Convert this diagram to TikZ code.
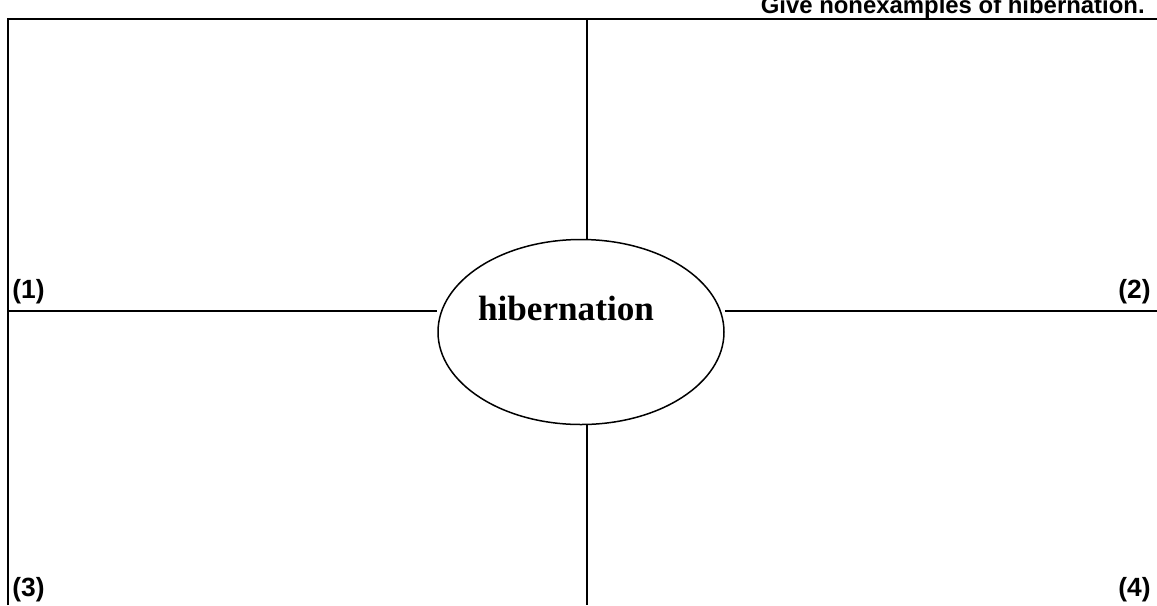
\documentclass[tikz,border=0pt]{standalone}
\usepackage{fontspec}
\setmainfont{Liberation Serif}
\newfontfamily\arialfont{Liberation Sans}
\usetikzlibrary{shapes.geometric, positioning}

\begin{document}
\begin{tikzpicture}[x=0.2mm, y=-0.2mm,
  rule/.style={draw=black, line width=0.3mm},
  numlabel/.style={anchor=base west, inner sep=0pt, font=\arialfont\bfseries\fontsize{15}{17}\selectfont},
  centerbox/.style={ellipse, draw=black, line width=0.3mm, minimum width=57.2mm, minimum height=37mm,
    inner sep=0pt, text height=5mm, text depth=9.8mm, font=\bfseries\fontsize{20}{24}\selectfont}]
\useasboundingbox (0,0) rectangle (1157,605);
\node[centerbox] (E) at (581,332) {\makebox[0pt]{hibernation\hspace*{6mm}}};
\node[anchor=base east, inner sep=0pt, font=\arialfont\bfseries\fontsize{13.6}{16}\selectfont] (T) at (1145,13) {Give nonexamples of hibernation.};
\node[numlabel] (L1) at (12,298) {(1)};
\node[numlabel, anchor=base east] (L2) at (1151,298) {(2)};
\node[numlabel] (L3) at (12,596) {(3)};
\node[numlabel, anchor=base east] (L4) at (1151,596) {(4)};
\coordinate (C0) at (8,605);
\coordinate (C1) at (8,19);
\coordinate (C2) at (1157,19);
\coordinate (V0) at (587,19);
\coordinate (V1) at (587,605);
\coordinate (H0) at (8,311);
\coordinate (H1) at (1157,311);
% frame
\draw[rule] (C0) -- (C1) -- (C2);
% cross
\draw[rule] (V0) -- (E.north -| V0);
\draw[rule] (E.south -| V0) -- (V1);
\draw[rule] (H0) -- (E.west |- H0);
\draw[rule] (E.east |- H0) -- (H1);
\end{tikzpicture}
\end{document}
